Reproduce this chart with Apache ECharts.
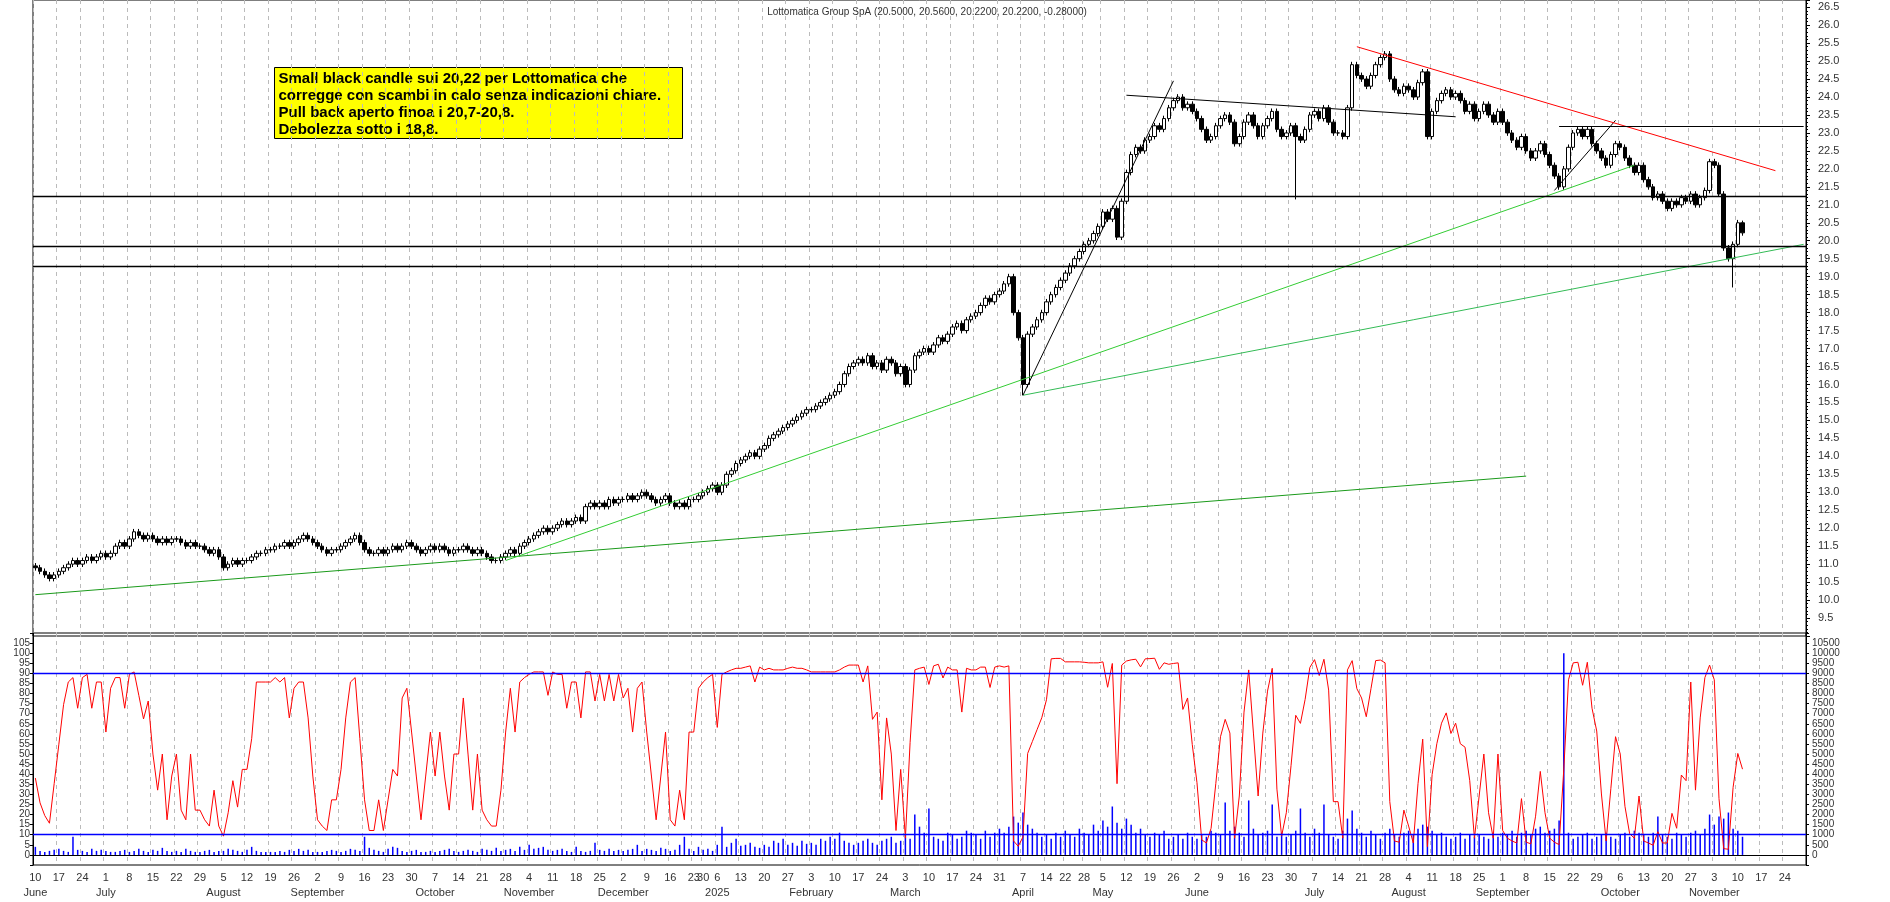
<!DOCTYPE html>
<html>
<head>
<meta charset="utf-8">
<script src="https://cdn.jsdelivr.net/npm/echarts@6/dist/echarts.min.js"></script>
<style>html,body{margin:0;padding:0;background:#fff}#chart{width:1890px;height:902px}</style>
</head>
<body>
<div id="chart"></div>
<script>
// closes, one row per week (from 10 June 2024)
var closes = [
  10.9,10.8,10.7,10.6,10.7, 10.8,10.9,11.0,11.1,11.0, 11.1,11.2,11.1,11.2,11.3, 11.2,11.3,11.5,11.6,11.5,
  11.7,11.9,11.8,11.7,11.8, 11.7,11.6,11.7,11.6,11.7, 11.7,11.6,11.5,11.6,11.5, 11.5,11.4,11.3,11.4,11.2,
  10.9,11.0,11.1,11.0,11.1, 11.1,11.2,11.3,11.3,11.4, 11.4,11.5,11.5,11.6,11.5, 11.6,11.7,11.8,11.7,11.6,
  11.5,11.4,11.3,11.4,11.4, 11.5,11.6,11.7,11.8,11.6, 11.4,11.3,11.3,11.4,11.3, 11.4,11.5,11.4,11.5,11.6,
  11.5,11.4,11.3,11.4,11.5, 11.4,11.5,11.4,11.3,11.4, 11.4,11.5,11.4,11.3,11.4, 11.3,11.2,11.1,11.1,11.2,
  11.3,11.4,11.3,11.5,11.6, 11.7,11.8,11.9,12.0,11.9, 12.0,12.1,12.2,12.1,12.2, 12.3,12.2,12.6,12.7,12.6,
  12.7,12.6,12.8,12.7,12.8, 12.8,12.9,12.8,12.9,13.0, 12.9,12.8,12.7,12.8,12.9, 12.7,12.6,12.7,12.6,12.8,
  12.8,12.9, 13.0,13.1,13.2,
  13.0,13.2,13.5,13.6,13.8, 13.9,14.0,14.1,14.0,14.2, 14.3,14.5,14.6,14.7,14.8, 14.9,15.0,15.1,15.2,15.3,
  15.3,15.4,15.5,15.6,15.7, 15.8,16.0,16.3,16.5,16.6, 16.7,16.6,16.8,16.5,16.6, 16.4,16.7,16.6,16.3,16.5,
  16.0,16.4,16.8,16.9,17.0, 16.9,17.1,17.3,17.2,17.4, 17.6,17.7,17.5,17.8,17.9, 18.0,18.2,18.4,18.3,18.5,
  18.6,18.8,19.0,18.0,17.3, 16.0,17.4,17.6,17.8,18.0,
  18.3,18.5,18.7,18.9, 19.1,19.3,19.5,19.7, 19.9,20.0,20.2,20.4,
  20.8,20.6,20.9,20.1,21.1, 21.9,22.4,22.6,22.5,22.8, 22.9,23.2,23.1,23.4,23.7, 23.9,24.0,23.7,23.8,23.6,
  23.4,23.1,22.8,22.9,23.2, 23.4,23.5,23.3,22.7,22.9, 23.3,23.5,23.2,22.9,23.2, 23.4,23.6,23.1,22.9,23.0,
  23.2,22.9,22.8,23.1,23.5, 23.6,23.4,23.7,23.3,23.0, 23.0,22.9,23.7,24.9,24.6, 24.5,24.3,24.6,24.9,25.1,
  25.2,24.5,24.2,24.1,24.3, 24.2,24.0,24.4,24.7,22.9, 23.6,23.9,24.1,24.2,24.0, 24.1,23.9,23.6,23.8,23.4,
  23.6,23.8,23.5,23.3,23.6, 23.3,23.0,22.8,22.6,22.9, 22.5,22.3,22.5,22.7,22.4, 22.1,21.8,21.5,22.0,22.6,
  23.0,23.1,22.9,23.1,22.7, 22.5,22.3,22.1,22.4,22.7, 22.6,22.3,22.1,21.9,22.1, 21.7,21.5,21.2,21.3,21.1,
  20.9,21.1,21.0,21.2,21.1, 21.3,21.0,21.2,21.4,22.2, 22.1,21.3,19.8,19.5,19.9, 20.5,20.22
];
// volume, same order
var volumes = [
  400,200,150,200,250, 300,200,150,900,250, 200,150,300,200,250, 200,150,150,200,250,
  150,200,300,200,150, 250,200,350,200,150, 200,150,300,200,150, 150,200,250,150,200,
  200,300,250,200,150, 250,400,200,150,150, 150,150,200,150,250, 200,300,200,250,150,
  150,150,200,250,200, 150,200,300,250,200, 900,350,250,200,150, 300,400,350,200,150,
  200,250,150,150,200, 150,200,250,300,200, 150,200,250,200,150, 300,250,200,350,200,
  250,300,200,400,250, 500,300,350,400,250, 200,250,300,200,150, 400,200,150,200,600,
  250,200,300,200,250, 200,250,300,500,200, 300,250,200,350,300, 200,250,500,900,300,
  200,400, 250,300,200,
  500,1400,400,600,800, 450,500,600,400,350, 500,400,700,600,800, 500,600,450,700,550,
  600,500,800,700,900, 800,1100,700,600,500, 600,700,800,600,500, 700,800,900,600,700,
  1000,800,2000,1400,1100, 2300,900,800,700,1100, 1000,800,900,1200,1100, 1000,800,1200,900,1100,
  1300,1100,1400,1900,1600, 2100,1500,1300,1100,900,
  1000,800,1100,900, 1200,1000,900,1300, 1100,1000,1500,1200,
  1700,1400,2400,1600,1300, 1800,1500,1100,1300,1000, 900,1100,1000,1200,800, 900,1000,800,1100,900,
  800,1000,900,1200,1100, 1000,2600,1200,1400,1100, 900,2700,1300,1000,1100, 1200,2500,900,1100,900,
  1000,1200,2300,1100,900, 1300,1100,2500,1000,900, 800,1200,1800,2200,1300, 1100,900,1200,1000,800,
  1100,1300,1000,900,1100, 1200,1000,1300,1500,1400, 1200,1000,1100,900,800, 900,1100,800,1000,900,
  1000,900,800,1100,900, 1100,1000,1200,900,1100, 1200,1000,1300,1400,1100, 1200,1300,1700,10000,1100,
  800,900,1000,1100,800, 900,1000,1100,900,800, 1000,1100,900,1200,1100, 1000,900,1100,1900,1000,
  900,800,1100,1000,900, 1100,1200,1000,1300,2000, 1500,1900,1800,2100,1300, 1200,900
];
// lows that stick out of the usual range
var extraLows = {'2025-04-07': 15.7, '2025-07-01': 21.15, '2025-11-07': 18.7};
var holidays = ['2024-12-24','2024-12-25','2024-12-26','2024-12-31','2025-01-01','2025-04-18','2025-04-21','2025-05-01'];
var monthNames = ['January','February','March','April','May','June','July','August','September','October','November','December'];
// support / resistance lines: [date1, price1, date2, price2, colour]
var trendLines = [
  ['2024-06-10',10.15,'2025-09-08',13.45,'#1a9a1a'],
  ['2024-10-28',11.1,'2025-10-09',22.1,'#33cc33'],
  ['2025-04-07',15.7,'2025-11-28',19.9,'#33bb55'],
  ['2025-04-07',15.7,'2025-05-26',24.45,'#000'],
  ['2025-05-12',24.05,'2025-08-18',23.45,'#000'],
  ['2025-09-16',21.4,'2025-10-03',23.35,'#000'],
  ['2025-07-18',25.4,'2025-11-20',21.95,'#ff0000'],
  ['2025-09-17',23.2,'2025-11-28',23.2,'#000']
];
var levels = [21.25, 19.85, 19.3];

function fmt(d){
  var m = d.getMonth()+1, day = d.getDate();
  return d.getFullYear()+'-'+(m<10?'0':'')+m+'-'+(day<10?'0':'')+day;
}
var dates = [];
var d = new Date(2024,5,10);
while (d <= new Date(2025,10,28)) {
  var wd = d.getDay(), s = fmt(d);
  if (wd>0 && wd<6 && holidays.indexOf(s)<0) dates.push(s);
  d.setDate(d.getDate()+1);
}
var weekStart = dates.map(function(s,i){
  if (i==0) return true;
  return new Date(s).getDay() < new Date(dates[i-1]).getDay();
});
var monthStart = {};
var seen = {};
dates.forEach(function(s,i){
  if (!weekStart[i]) return;
  var k = s.substr(0,7);
  if (!seen[k]) { seen[k]=1; monthStart[i]=true; }
});

var candles = [], highs = [], lows = [];
for (var i=0;i<closes.length;i++){
  var o = i==0 ? 10.95 : closes[i-1], c = closes[i];
  if (i==closes.length-1) o = 20.5;
  var h = Math.max(o,c)+0.08, l = Math.min(o,c)-0.08;
  if (i==closes.length-1) h = 20.56;
  if (extraLows[dates[i]]) l = extraLows[dates[i]];
  candles.push([o,c,l,h]); highs.push(h); lows.push(l);
}
// fast stochastic %K(8)
var stoch = [];
for (var i=0;i<closes.length;i++){
  var a = Math.max(0,i-7), hh=-1e9, ll=1e9;
  for (var j=a;j<=i;j++){ hh=Math.max(hh,highs[j]); ll=Math.min(ll,lows[j]); }
  stoch.push(+(hh==ll?50:(closes[i]-ll)/(hh-ll)*100).toFixed(1));
}
var volScaled = volumes.map(function(v){return v/100;});

var mlData = trendLines.map(function(t){
  return [{coord:[t[0],t[1]],lineStyle:{color:t[4]}},{coord:[t[2],t[3]]}];
});
levels.forEach(function(v){ mlData.push({yAxis:v,lineStyle:{color:'#000',width:1.3}}); });

var labelFont = {fontFamily:'Liberation Sans',fontSize:11,color:'#333'};
var chart = echarts.init(document.getElementById('chart'));
chart.setOption({
  animation:false,
  title:{text:'Lottomatica Group SpA (20.5000, 20.5600, 20.2200, 20.2200, -0.28000)',left:922,top:2,
    textAlign:'center',textStyle:{fontFamily:'Liberation Sans',fontSize:10,fontWeight:'normal',color:'#333'}},
  graphic:[{type:'group',left:274,top:67,children:[
    {type:'rect',shape:{x:0,y:0,width:408,height:71},style:{fill:'#ffff00',stroke:'#000',lineWidth:1}},
    {type:'text',left:4,top:3,style:{text:'Small black candle sui 20,22 per Lottomatica che\ncorregge con scambi in calo senza indicazioni chiare.\nPull back aperto finoa i 20,7-20,8.\nDebolezza sotto i 18,8.',
      font:'bold 15px "Liberation Sans"',lineHeight:17,fill:'#000'}}
  ]}],
  grid:[
    {left:33,right:84,top:0,height:636,show:true,borderColor:'#000',borderWidth:1},
    {left:33,right:84,top:633,height:232,show:true,borderColor:'#000',borderWidth:1}
  ],
  xAxis:[
    {type:'category',gridIndex:0,data:dates,boundaryGap:true,axisLine:{show:false},axisTick:{show:false},axisLabel:{show:false},
     splitLine:{show:true,interval:function(i){return weekStart[i];},lineStyle:{color:'#bbb',type:[4,4]}}},
    {type:'category',gridIndex:1,data:dates,boundaryGap:true,axisLine:{lineStyle:{color:'#000'}},
     axisTick:{interval:function(i){return weekStart[i];},length:4,lineStyle:{color:'#000'}},
     splitLine:{show:true,interval:function(i){return weekStart[i];},lineStyle:{color:'#bbb',type:[4,4]}},
     axisLabel:Object.assign({},labelFont,{interval:function(i){return weekStart[i];},hideOverlap:false,margin:5,lineHeight:15,
       formatter:function(v,i){
         var dt=new Date(v), s=''+dt.getDate();
         if (monthStart[i]) s += '\n' + (dt.getMonth()==0 ? dt.getFullYear() : monthNames[dt.getMonth()]);
         return s;
       }})}
  ],
  yAxis:[
    {type:'value',gridIndex:0,position:'right',min:9,max:26.7,interval:0.5,
     axisLine:{show:true,lineStyle:{color:'#000'}},axisTick:{show:true,length:4},
     minorTick:{show:true,splitNumber:5,length:2,lineStyle:{color:'#000'}},splitLine:{show:false},
     axisLabel:Object.assign({},labelFont,{showMinLabel:false,showMaxLabel:false,margin:12,formatter:function(v){return v.toFixed(1);}})},
    {type:'value',gridIndex:1,position:'left',min:-5,max:110,interval:5,
     axisLine:{show:true,lineStyle:{color:'#000'}},axisTick:{show:true,length:3},splitLine:{show:false},
     axisLabel:Object.assign({},labelFont,{fontSize:10,margin:3,formatter:function(v){return (v<0||v>105)?'':v;}})},
    {type:'value',gridIndex:1,position:'right',min:-5,max:110,interval:5,
     axisLine:{show:true,lineStyle:{color:'#000'}},axisTick:{show:true,length:3},splitLine:{show:false},
     axisLabel:Object.assign({},labelFont,{fontSize:10,margin:6,formatter:function(v){return (v<0||v>105)?'':v*100;}})}
  ],
  series:[
    {type:'candlestick',xAxisIndex:0,yAxisIndex:0,data:candles,barWidth:4,
     itemStyle:{color:'#fff',color0:'#000',borderColor:'#000',borderColor0:'#000',borderWidth:1},
     markLine:{silent:true,symbol:'none',label:{show:false},lineStyle:{width:1,type:'solid'},data:mlData}},
    {type:'bar',xAxisIndex:1,yAxisIndex:2,data:volScaled,barWidth:1.5,itemStyle:{color:'#0000ff'}},
    {type:'line',xAxisIndex:1,yAxisIndex:1,data:stoch,showSymbol:false,lineStyle:{color:'#ff0000',width:1},
     markLine:{silent:true,symbol:'none',label:{show:false},lineStyle:{color:'#0000ff',width:1.3,type:'solid'},
       data:[{yAxis:90},{yAxis:10}]}}
  ]
});
</script>
</body>
</html>
